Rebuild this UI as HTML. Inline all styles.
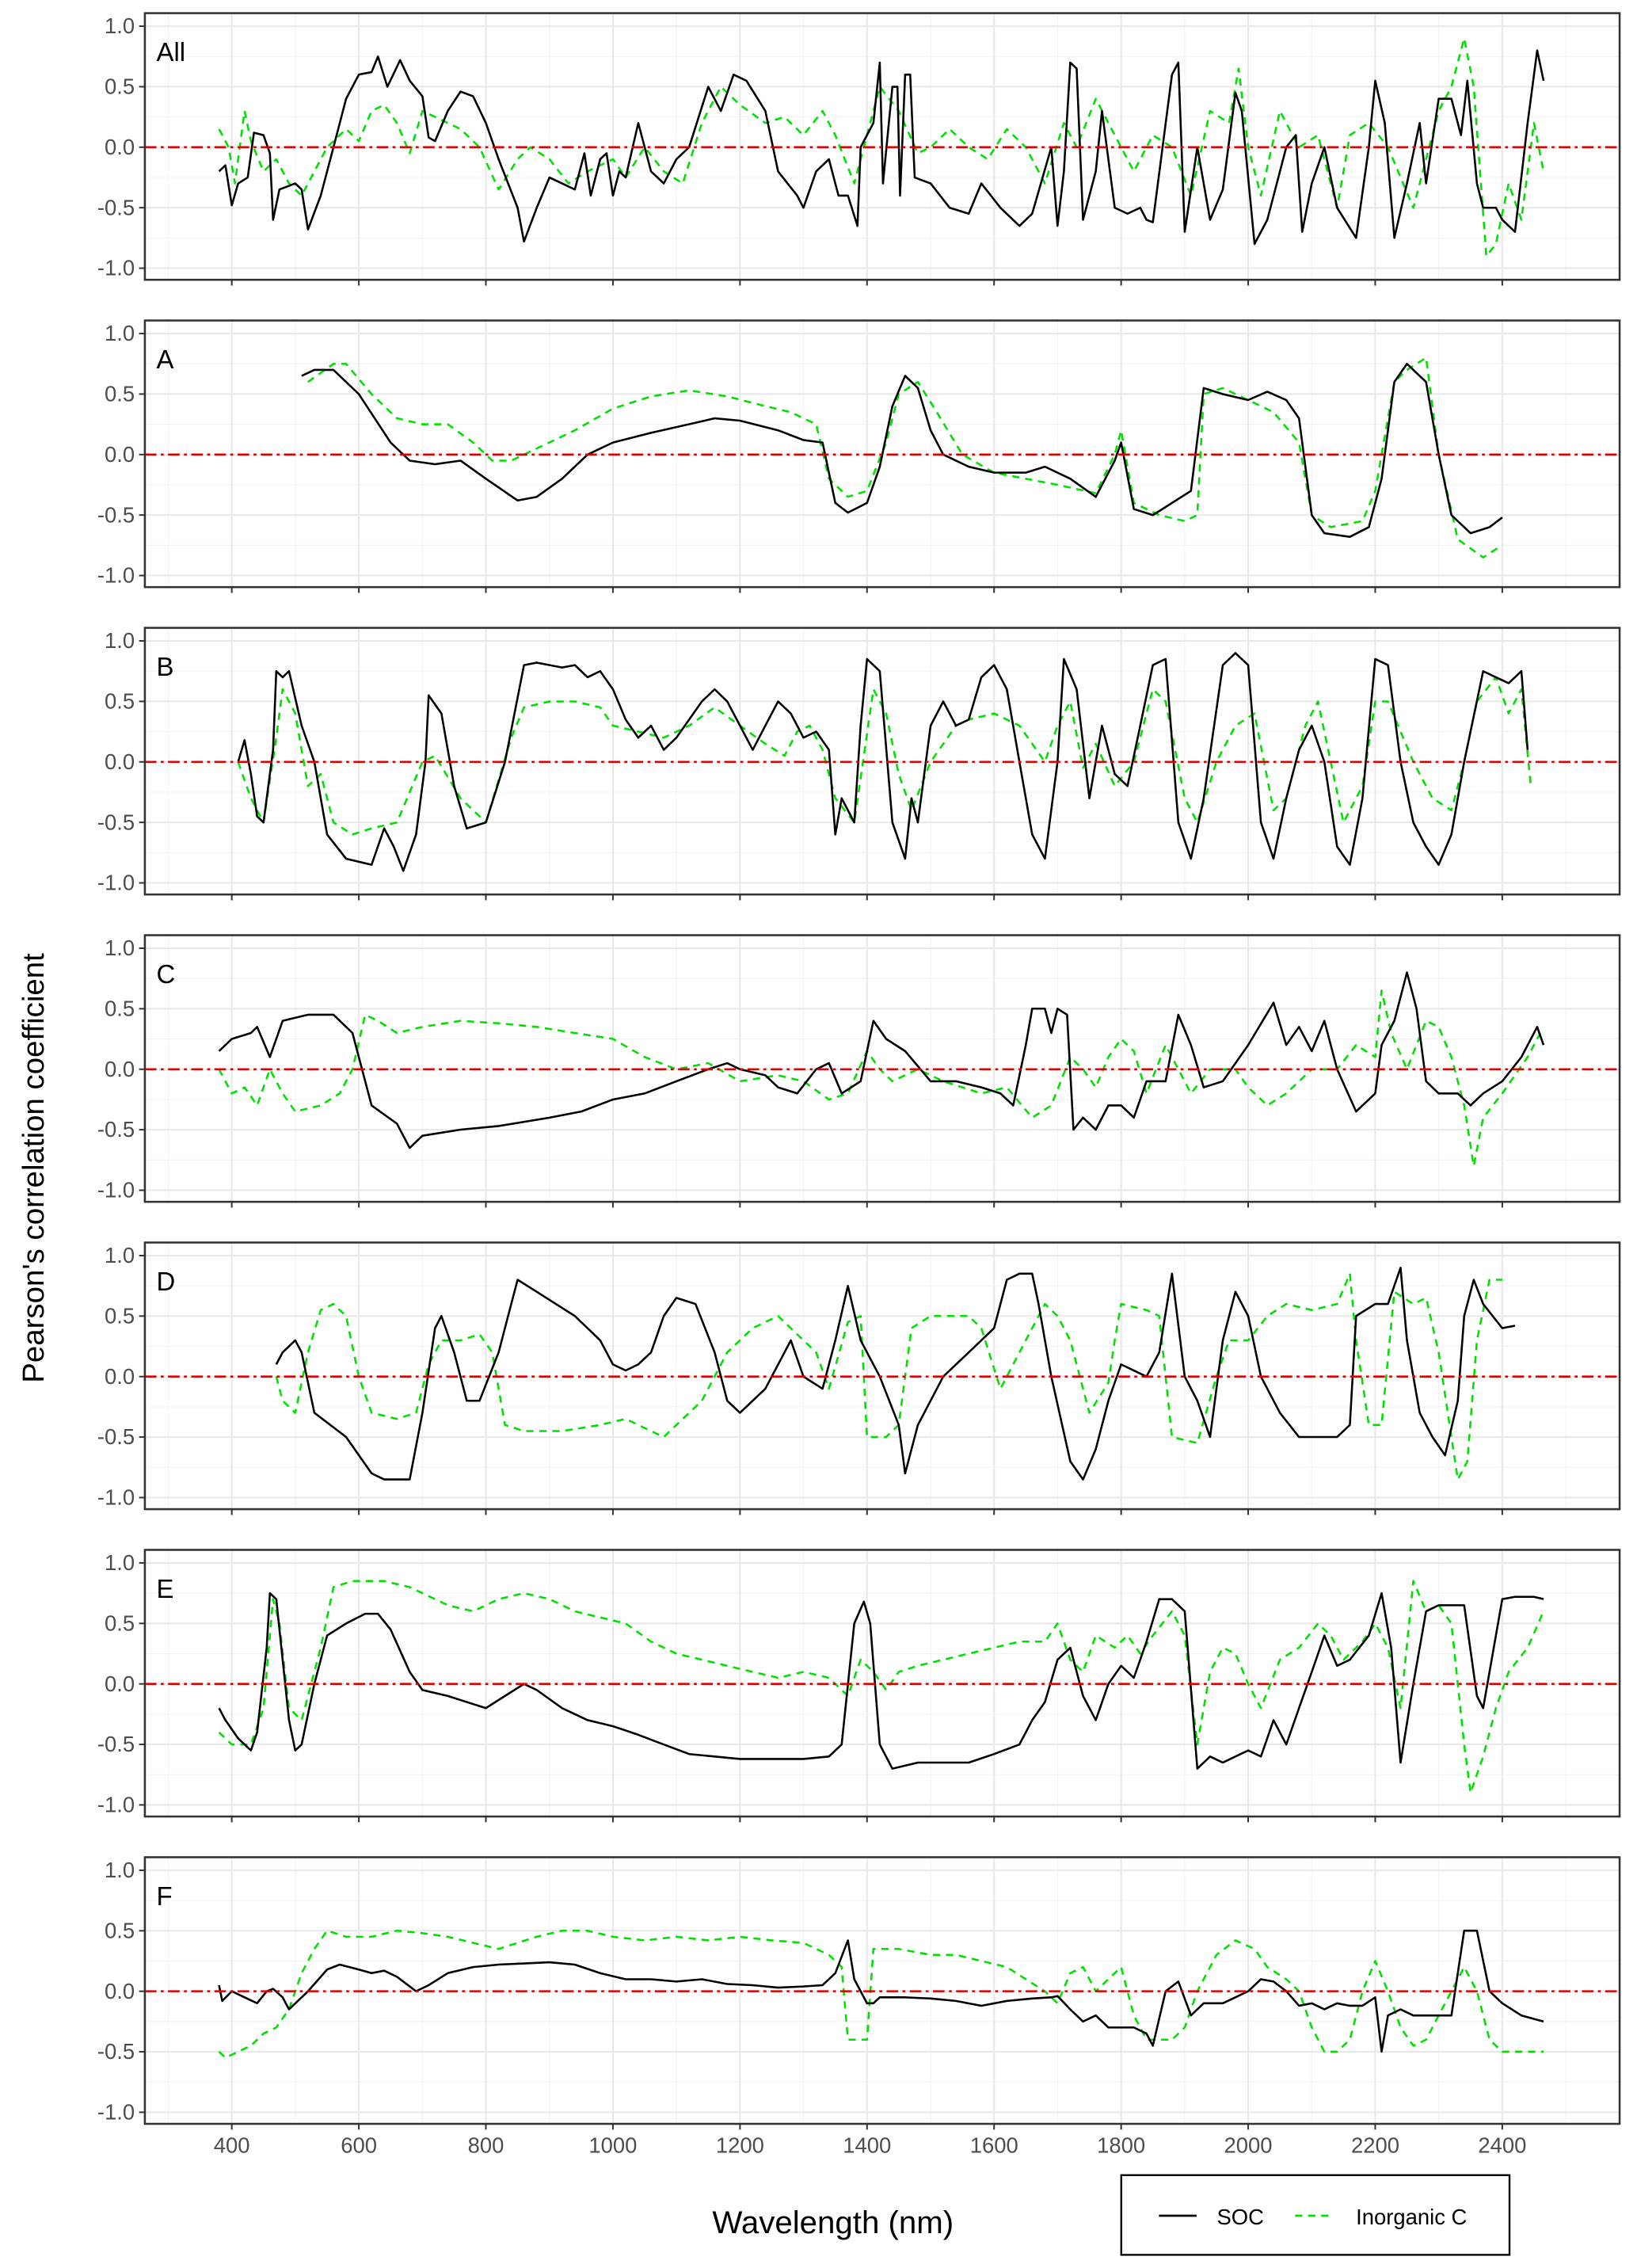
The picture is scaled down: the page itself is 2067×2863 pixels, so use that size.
<!DOCTYPE html>
<html><head><meta charset="utf-8"><style>
html,body{margin:0;padding:0;background:#fff;}
svg{display:block;font-family:"Liberation Sans",Arial,sans-serif;}
</style></head><body>
<svg id="s" xmlns="http://www.w3.org/2000/svg" width="2067" height="2863" viewBox="0 0 1130 1565">
<rect width="1130" height="1565" fill="#fff"/>
<g id="g"></g>
<text x="575" y="1541" font-size="22" text-anchor="middle" fill="#000">Wavelength (nm)</text>
<text transform="translate(30,806) rotate(-90)" font-size="21" text-anchor="middle" fill="#000">Pearson's correlation coefficient</text>
<rect x="774" y="1501" width="268" height="55" fill="#fff" stroke="#000" stroke-width="1.3"/>
<line x1="800" y1="1529" x2="826" y2="1529" stroke="#000" stroke-width="1.5"/>
<text x="840" y="1535" font-size="15">SOC</text>
<line x1="894" y1="1529" x2="920" y2="1529" stroke="#00e000" stroke-width="1.5" stroke-dasharray="5,4"/>
<text x="936" y="1535" font-size="15">Inorganic C</text>
</svg>
<script>
var D={
All:[[[380,-0.2],[390,-0.15],[400,-0.48],[410,-0.3],[425,-0.25],[435,0.12],[450,0.1],[460,-0.05],[465,-0.6],[475,-0.35],[500,-0.3],[510,-0.35],[520,-0.68],[540,-0.4],[560,0],[580,0.4],[600,0.6],[620,0.62],[630,0.75],[645,0.5],[665,0.72],[680,0.55],[700,0.42],[710,0.08],[720,0.05],[740,0.3],[760,0.46],[780,0.42],[800,0.2],[820,-0.1],[850,-0.5],[860,-0.78],[880,-0.5],[900,-0.25],[920,-0.3],[940,-0.35],[955,-0.05],[965,-0.4],[980,-0.1],[990,-0.05],[1000,-0.4],[1010,-0.2],[1020,-0.25],[1040,0.2],[1060,-0.2],[1080,-0.3],[1100,-0.1],[1120,0],[1150,0.5],[1170,0.3],[1190,0.6],[1210,0.55],[1240,0.3],[1260,-0.2],[1290,-0.4],[1300,-0.5],[1320,-0.2],[1340,-0.1],[1355,-0.4],[1370,-0.4],[1385,-0.65],[1390,0],[1410,0.2],[1420,0.7],[1425,-0.3],[1440,0.5],[1448,0.5],[1452,-0.4],[1460,0.6],[1468,0.6],[1475,-0.25],[1500,-0.3],[1530,-0.5],[1560,-0.55],[1580,-0.3],[1610,-0.5],[1640,-0.65],[1660,-0.55],[1690,0],[1700,-0.65],[1710,-0.2],[1720,0.7],[1730,0.65],[1740,-0.6],[1760,-0.2],[1770,0.3],[1790,-0.5],[1810,-0.55],[1830,-0.5],[1840,-0.6],[1850,-0.62],[1880,0.6],[1890,0.7],[1900,-0.7],[1920,0],[1940,-0.6],[1960,-0.35],[1980,0.45],[1990,0.3],[2010,-0.8],[2030,-0.6],[2060,0],[2075,0.1],[2085,-0.7],[2100,-0.3],[2120,0],[2140,-0.5],[2170,-0.75],[2190,0],[2200,0.55],[2215,0.2],[2230,-0.75],[2250,-0.3],[2270,0.2],[2280,-0.3],[2300,0.4],[2320,0.4],[2335,0.1],[2345,0.55],[2360,-0.3],[2370,-0.5],[2390,-0.5],[2400,-0.6],[2420,-0.7],[2440,0.2],[2455,0.8],[2465,0.55]],
[[380,0.15],[395,0],[405,-0.3],[420,0.3],[430,0.05],[450,-0.2],[470,-0.1],[490,-0.3],[510,-0.4],[530,-0.2],[550,0],[580,0.15],[600,0.05],[620,0.3],[640,0.35],[660,0.2],[680,-0.05],[700,0.3],[720,0.25],[740,0.2],[760,0.15],[790,0],[820,-0.35],[850,-0.1],[870,0],[900,-0.1],[930,-0.3],[960,-0.2],[1000,-0.1],[1020,-0.25],[1050,0],[1080,-0.2],[1110,-0.3],[1140,0.2],[1170,0.5],[1200,0.35],[1240,0.2],[1270,0.25],[1300,0.1],[1330,0.3],[1350,0.1],[1380,-0.3],[1420,0.5],[1450,0.3],[1480,-0.05],[1500,0],[1530,0.15],[1560,0],[1590,-0.1],[1620,0.15],[1650,0],[1680,-0.3],[1710,0.2],[1730,0],[1760,0.4],[1790,0.1],[1820,-0.2],[1850,0.1],[1880,0],[1910,-0.4],[1940,0.3],[1970,0.2],[1985,0.65],[2000,0],[2020,-0.4],[2050,0.3],[2080,0],[2110,0.1],[2140,-0.5],[2160,0.1],[2190,0.2],[2220,0],[2260,-0.5],[2280,-0.1],[2300,0.3],[2320,0.5],[2340,0.9],[2355,0.5],[2375,-0.9],[2390,-0.8],[2410,-0.3],[2430,-0.6],[2450,0.2],[2465,-0.2]]],
A:[[[510,0.65],[530,0.7],[560,0.7],[600,0.5],[650,0.1],[680,-0.05],[720,-0.08],[760,-0.05],[800,-0.2],[850,-0.38],[880,-0.35],[920,-0.2],[960,0],[1000,0.1],[1060,0.18],[1120,0.25],[1160,0.3],[1200,0.28],[1260,0.2],[1300,0.12],[1330,0.1],[1350,-0.4],[1370,-0.48],[1400,-0.4],[1420,-0.1],[1440,0.4],[1460,0.65],[1480,0.55],[1500,0.2],[1520,0],[1560,-0.1],[1600,-0.15],[1650,-0.15],[1680,-0.1],[1720,-0.2],[1760,-0.35],[1790,-0.05],[1800,0.1],[1820,-0.45],[1850,-0.5],[1880,-0.4],[1910,-0.3],[1930,0.55],[1960,0.5],[2000,0.45],[2030,0.52],[2060,0.45],[2080,0.3],[2100,-0.5],[2120,-0.65],[2160,-0.68],[2190,-0.6],[2210,-0.2],[2230,0.6],[2250,0.75],[2280,0.6],[2300,0],[2320,-0.5],[2350,-0.65],[2380,-0.6],[2400,-0.52]],
[[520,0.6],[560,0.75],[580,0.75],[620,0.5],[660,0.3],[700,0.25],[740,0.25],[780,0.1],[810,-0.05],[840,-0.05],[880,0.05],[940,0.2],[1000,0.38],[1060,0.48],[1120,0.53],[1180,0.48],[1240,0.4],[1280,0.35],[1320,0.25],[1340,-0.2],[1370,-0.35],[1400,-0.3],[1430,0.1],[1450,0.5],[1480,0.6],[1510,0.35],[1550,0],[1600,-0.15],[1650,-0.2],[1700,-0.25],[1760,-0.32],[1790,0],[1800,0.2],[1820,-0.4],[1860,-0.5],[1900,-0.55],[1920,-0.5],[1930,0.5],[1960,0.55],[2000,0.45],[2040,0.35],[2080,0.1],[2100,-0.5],[2130,-0.6],[2180,-0.55],[2200,-0.3],[2230,0.6],[2250,0.7],[2280,0.8],[2300,0],[2330,-0.7],[2370,-0.85],[2400,-0.75]]],
B:[[[410,0],[420,0.18],[430,-0.1],[440,-0.45],[450,-0.5],[465,0.1],[470,0.75],[480,0.7],[490,0.75],[510,0.3],[530,0],[550,-0.6],[580,-0.8],[620,-0.85],[640,-0.55],[655,-0.7],[670,-0.9],[690,-0.6],[705,0],[710,0.55],[730,0.4],[750,-0.2],[770,-0.55],[800,-0.5],[830,0],[860,0.8],[880,0.82],[920,0.78],[940,0.8],[960,0.7],[980,0.75],[1000,0.6],[1020,0.35],[1040,0.2],[1060,0.3],[1080,0.1],[1100,0.2],[1140,0.5],[1160,0.6],[1180,0.5],[1200,0.3],[1220,0.1],[1240,0.3],[1260,0.5],[1280,0.4],[1300,0.2],[1320,0.25],[1340,0.1],[1350,-0.6],[1360,-0.3],[1380,-0.5],[1390,0.3],[1400,0.85],[1420,0.75],[1440,-0.5],[1460,-0.8],[1470,-0.3],[1480,-0.5],[1500,0.3],[1520,0.5],[1540,0.3],[1560,0.35],[1580,0.7],[1600,0.8],[1620,0.6],[1640,0],[1660,-0.6],[1680,-0.8],[1700,0],[1710,0.85],[1730,0.6],[1750,-0.3],[1770,0.3],[1790,-0.1],[1810,-0.2],[1830,0.3],[1850,0.8],[1870,0.85],[1890,-0.5],[1910,-0.8],[1930,-0.3],[1960,0.8],[1980,0.9],[2000,0.8],[2020,-0.5],[2040,-0.8],[2060,-0.3],[2080,0.1],[2100,0.3],[2120,0],[2140,-0.7],[2160,-0.85],[2180,-0.3],[2200,0.85],[2220,0.8],[2240,0],[2260,-0.5],[2280,-0.7],[2300,-0.85],[2320,-0.6],[2340,0],[2370,0.75],[2390,0.7],[2410,0.65],[2430,0.75],[2440,0.1]],
[[410,0],[430,-0.3],[450,-0.5],[470,0.2],[480,0.6],[500,0.4],[520,-0.2],[540,-0.1],[560,-0.5],[590,-0.6],[620,-0.55],[660,-0.5],[700,0],[720,0.05],[760,-0.3],[800,-0.5],[840,0.2],[860,0.45],[900,0.5],[940,0.5],[980,0.45],[1000,0.3],[1040,0.25],[1080,0.2],[1120,0.3],[1160,0.45],[1200,0.3],[1240,0.15],[1270,0.05],[1290,0.25],[1310,0.3],[1330,0.1],[1350,-0.3],[1380,-0.5],[1410,0.6],[1430,0.4],[1450,-0.1],[1470,-0.4],[1500,0],[1540,0.3],[1560,0.35],[1600,0.4],[1640,0.3],[1680,0],[1700,0.3],[1720,0.5],[1740,-0.05],[1760,0.15],[1790,-0.2],[1820,0],[1850,0.6],[1870,0.5],[1900,-0.3],[1920,-0.5],[1950,0],[1980,0.3],[2010,0.4],[2040,-0.4],[2060,-0.3],[2090,0.3],[2110,0.5],[2130,0],[2150,-0.5],[2180,-0.2],[2200,0.5],[2220,0.5],[2260,0],[2290,-0.3],[2320,-0.4],[2340,0],[2360,0.5],[2390,0.7],[2410,0.4],[2430,0.6],[2445,-0.2]]],
C:[[[380,0.15],[400,0.25],[430,0.3],[440,0.35],[460,0.1],[480,0.4],[520,0.45],[560,0.45],[590,0.3],[620,-0.3],[660,-0.45],[680,-0.65],[700,-0.55],[760,-0.5],[820,-0.47],[900,-0.4],[950,-0.35],[1000,-0.25],[1050,-0.2],[1100,-0.1],[1150,0],[1180,0.05],[1200,0],[1240,-0.05],[1260,-0.15],[1290,-0.2],[1320,0],[1340,0.05],[1360,-0.2],[1390,-0.1],[1410,0.4],[1430,0.25],[1460,0.15],[1500,-0.1],[1540,-0.1],[1580,-0.15],[1610,-0.2],[1630,-0.3],[1650,0.2],[1660,0.5],[1680,0.5],[1690,0.3],[1700,0.5],[1715,0.45],[1725,-0.5],[1740,-0.4],[1760,-0.5],[1780,-0.3],[1800,-0.3],[1820,-0.4],[1840,-0.1],[1870,-0.1],[1890,0.45],[1910,0.2],[1930,-0.15],[1960,-0.1],[2000,0.2],[2040,0.55],[2060,0.2],[2080,0.35],[2100,0.15],[2120,0.4],[2140,0],[2170,-0.35],[2200,-0.2],[2210,0.2],[2230,0.4],[2250,0.8],[2265,0.5],[2280,-0.1],[2300,-0.2],[2330,-0.2],[2350,-0.3],[2370,-0.2],[2400,-0.1],[2430,0.1],[2455,0.35],[2465,0.2]],
[[380,0],[400,-0.2],[420,-0.15],[440,-0.3],[460,0],[480,-0.2],[500,-0.35],[540,-0.3],[570,-0.2],[590,0],[610,0.45],[630,0.4],[660,0.3],[700,0.35],[760,0.4],[820,0.38],[880,0.35],[940,0.3],[1000,0.25],[1050,0.1],[1100,0],[1150,0.05],[1200,-0.1],[1260,-0.05],[1300,-0.1],[1340,-0.25],[1370,-0.2],[1400,0.15],[1420,0],[1440,-0.1],[1480,0],[1520,-0.1],[1580,-0.2],[1620,-0.15],[1660,-0.4],[1690,-0.3],[1720,0.1],[1740,0],[1760,-0.15],[1780,0.1],[1800,0.25],[1820,0.15],[1840,-0.2],[1870,0.2],[1890,0],[1910,-0.2],[1940,0],[1980,0],[2000,-0.15],[2030,-0.3],[2060,-0.2],[2100,0],[2140,0],[2170,0.2],[2200,0.1],[2210,0.65],[2225,0.3],[2250,0],[2280,0.4],[2300,0.35],[2320,0.1],[2340,-0.3],[2355,-0.8],[2370,-0.4],[2400,-0.2],[2440,0.1],[2460,0.3]]],
D:[[[470,0.1],[480,0.2],[500,0.3],[510,0.2],[530,-0.3],[580,-0.5],[620,-0.8],[640,-0.85],[680,-0.85],[700,-0.3],[720,0.4],[730,0.5],[750,0.2],[770,-0.2],[790,-0.2],[820,0.2],[840,0.6],[850,0.8],[880,0.7],[940,0.5],[980,0.3],[1000,0.1],[1020,0.05],[1040,0.1],[1060,0.2],[1080,0.5],[1100,0.65],[1130,0.6],[1160,0.2],[1180,-0.2],[1200,-0.3],[1240,-0.1],[1280,0.3],[1300,0],[1330,-0.1],[1350,0.3],[1370,0.75],[1390,0.3],[1420,0],[1450,-0.4],[1460,-0.8],[1480,-0.4],[1520,0],[1560,0.2],[1600,0.4],[1620,0.8],[1640,0.85],[1660,0.85],[1670,0.6],[1690,0],[1720,-0.7],[1740,-0.85],[1760,-0.6],[1780,-0.2],[1800,0.1],[1840,0],[1860,0.2],[1880,0.85],[1900,0],[1920,-0.2],[1940,-0.5],[1960,0.3],[1980,0.7],[2000,0.5],[2020,0],[2050,-0.3],[2080,-0.5],[2110,-0.5],[2140,-0.5],[2160,-0.4],[2170,0.5],[2200,0.6],[2220,0.6],[2240,0.9],[2250,0.3],[2270,-0.3],[2290,-0.5],[2310,-0.65],[2330,-0.2],[2340,0.5],[2355,0.8],[2370,0.6],[2400,0.4],[2420,0.42]],
[[470,0],[480,-0.2],[500,-0.3],[520,0.2],[540,0.55],[560,0.6],[580,0.5],[600,0],[620,-0.3],[660,-0.35],[690,-0.3],[710,0.1],[730,0.3],[760,0.3],[790,0.35],[810,0.2],[830,-0.4],[860,-0.45],[920,-0.45],[980,-0.4],[1020,-0.35],[1060,-0.45],[1080,-0.5],[1100,-0.4],[1140,-0.2],[1180,0.2],[1220,0.4],[1260,0.5],[1300,0.3],[1320,0.2],[1340,-0.1],[1370,0.45],[1390,0.5],[1400,-0.5],[1430,-0.5],[1450,-0.4],[1470,0.4],[1500,0.5],[1560,0.5],[1580,0.4],[1610,-0.1],[1640,0.2],[1680,0.6],[1700,0.5],[1720,0.3],[1750,-0.3],[1780,-0.05],[1790,0.3],[1800,0.6],[1840,0.55],[1860,0.5],[1880,-0.5],[1920,-0.55],[1950,0],[1970,0.3],[2000,0.3],[2030,0.5],[2060,0.6],[2100,0.55],[2140,0.6],[2160,0.85],[2170,0.3],[2190,-0.4],[2210,-0.4],[2230,0.7],[2260,0.6],[2280,0.65],[2300,0.2],[2320,-0.5],[2330,-0.85],[2345,-0.7],[2360,0.3],[2380,0.8],[2400,0.8]]],
E:[[[380,-0.2],[390,-0.3],[410,-0.45],[430,-0.55],[440,-0.4],[455,0.3],[460,0.75],[470,0.7],[480,0.2],[490,-0.3],[500,-0.55],[510,-0.5],[530,0],[550,0.4],[580,0.5],[610,0.58],[630,0.58],[650,0.45],[680,0.1],[700,-0.05],[740,-0.1],[770,-0.15],[800,-0.2],[830,-0.1],[860,0],[880,-0.05],[920,-0.2],[960,-0.3],[1000,-0.35],[1040,-0.42],[1080,-0.5],[1120,-0.58],[1160,-0.6],[1200,-0.62],[1260,-0.62],[1300,-0.62],[1340,-0.6],[1360,-0.5],[1380,0.5],[1395,0.68],[1405,0.5],[1420,-0.5],[1440,-0.7],[1480,-0.65],[1520,-0.65],[1560,-0.65],[1600,-0.58],[1640,-0.5],[1660,-0.3],[1680,-0.15],[1700,0.2],[1720,0.3],[1740,-0.1],[1760,-0.3],[1780,0],[1800,0.15],[1820,0.05],[1840,0.35],[1860,0.7],[1880,0.7],[1900,0.6],[1920,-0.7],[1940,-0.6],[1960,-0.65],[1980,-0.6],[2000,-0.55],[2020,-0.6],[2040,-0.3],[2060,-0.5],[2080,-0.2],[2100,0.1],[2120,0.4],[2140,0.15],[2160,0.2],[2190,0.4],[2210,0.75],[2225,0.3],[2240,-0.65],[2260,0],[2280,0.6],[2300,0.65],[2340,0.65],[2360,-0.1],[2370,-0.2],[2380,0.1],[2400,0.7],[2420,0.72],[2450,0.72],[2465,0.7]],
[[380,-0.4],[400,-0.5],[430,-0.5],[450,-0.2],[465,0.7],[475,0.5],[490,-0.2],[510,-0.3],[540,0.3],[560,0.8],[590,0.85],[640,0.85],[680,0.8],[700,0.75],[740,0.65],[780,0.6],[820,0.7],[860,0.75],[900,0.7],[940,0.6],[980,0.55],[1020,0.5],[1060,0.35],[1100,0.25],[1140,0.2],[1180,0.15],[1220,0.1],[1260,0.05],[1300,0.1],[1340,0.05],[1370,-0.1],[1390,0.2],[1410,0.1],[1430,-0.05],[1450,0.1],[1480,0.15],[1520,0.2],[1560,0.25],[1600,0.3],[1640,0.35],[1680,0.35],[1700,0.5],[1720,0.2],[1740,0.1],[1760,0.4],[1790,0.3],[1810,0.4],[1830,0.25],[1850,0.4],[1880,0.6],[1900,0.4],[1920,-0.5],[1940,0.1],[1960,0.3],[1980,0.25],[2000,0],[2020,-0.2],[2050,0.2],[2080,0.3],[2110,0.5],[2130,0.4],[2150,0.2],[2180,0.35],[2200,0.5],[2220,0.3],[2240,-0.2],[2260,0.85],[2280,0.6],[2300,0.65],[2320,0.5],[2340,-0.5],[2350,-0.9],[2370,-0.6],[2390,-0.2],[2410,0.1],[2440,0.3],[2465,0.6]]],
F:[[[380,0.05],[385,-0.08],[400,0],[420,-0.05],[440,-0.1],[455,0],[465,0.02],[480,-0.05],[490,-0.15],[520,0],[550,0.18],[570,0.22],[600,0.18],[620,0.15],[640,0.17],[660,0.12],[690,0],[710,0.05],[740,0.15],[780,0.2],[820,0.22],[860,0.23],[900,0.24],[940,0.22],[980,0.15],[1020,0.1],[1060,0.1],[1100,0.08],[1140,0.1],[1180,0.06],[1220,0.05],[1260,0.03],[1300,0.04],[1330,0.05],[1350,0.15],[1370,0.42],[1380,0.1],[1400,-0.1],[1410,-0.1],[1420,-0.05],[1460,-0.05],[1500,-0.06],[1540,-0.08],[1580,-0.12],[1620,-0.08],[1660,-0.06],[1690,-0.05],[1700,-0.04],[1720,-0.15],[1740,-0.25],[1760,-0.2],[1780,-0.3],[1800,-0.3],[1820,-0.3],[1840,-0.35],[1850,-0.45],[1870,0],[1890,0.08],[1910,-0.2],[1930,-0.1],[1960,-0.1],[1980,-0.05],[2000,0],[2020,0.1],[2040,0.08],[2060,0],[2080,-0.12],[2100,-0.1],[2120,-0.15],[2140,-0.1],[2160,-0.12],[2180,-0.12],[2200,-0.05],[2210,-0.5],[2220,-0.2],[2240,-0.15],[2260,-0.2],[2280,-0.2],[2300,-0.2],[2320,-0.2],[2340,0.5],[2360,0.5],[2380,0],[2400,-0.1],[2430,-0.2],[2465,-0.25]],
[[380,-0.5],[390,-0.55],[410,-0.5],[430,-0.45],[450,-0.35],[470,-0.3],[490,-0.15],[510,0.15],[530,0.35],[550,0.5],[580,0.45],[620,0.45],[660,0.5],[700,0.48],[740,0.45],[780,0.4],[820,0.35],[850,0.4],[880,0.45],[920,0.5],[960,0.5],[1000,0.45],[1050,0.42],[1100,0.45],[1150,0.42],[1200,0.45],[1250,0.42],[1300,0.4],[1340,0.3],[1360,0.2],[1370,-0.4],[1400,-0.4],[1410,0.35],[1450,0.35],[1500,0.3],[1540,0.3],[1580,0.25],[1620,0.2],[1650,0.1],[1680,0],[1700,-0.1],[1720,0.15],[1740,0.2],[1760,0],[1780,0.1],[1800,0.2],[1820,-0.2],[1840,-0.4],[1880,-0.4],[1900,-0.3],[1920,0],[1950,0.3],[1980,0.42],[2010,0.35],[2030,0.2],[2060,0.1],[2080,0],[2100,-0.3],[2120,-0.5],[2140,-0.5],[2160,-0.4],[2180,0],[2200,0.25],[2220,0],[2240,-0.3],[2260,-0.45],[2280,-0.4],[2300,-0.2],[2320,0],[2340,0.2],[2360,0],[2380,-0.4],[2400,-0.5],[2440,-0.5],[2465,-0.5]]]
};
var names=["All","A","B","C","D","E","F"];
var L=100,R=1118,H=184;
function X(w){return 160+(w-400)*0.4385;}
var out="";
names.forEach(function(n,i){
  var top=9+i*212.1, z=top+92.5, k=83.5;
  function Y(r){return z-r*k;}
  // minor grid
  for(var w=300;w<=2500;w+=200){out+='<line x1="'+X(w)+'" y1="'+top+'" x2="'+X(w)+'" y2="'+(top+H)+'" stroke="#f3f3f3" stroke-width="0.6"/>';}
  [-0.75,-0.25,0.25,0.75].forEach(function(r){out+='<line x1="'+L+'" y1="'+Y(r)+'" x2="'+R+'" y2="'+Y(r)+'" stroke="#f3f3f3" stroke-width="0.6"/>';});
  for(var w=400;w<=2400;w+=200){out+='<line x1="'+X(w)+'" y1="'+top+'" x2="'+X(w)+'" y2="'+(top+H)+'" stroke="#e8e8e8" stroke-width="1.1"/>';
    out+='<line x1="'+X(w)+'" y1="'+(top+H)+'" x2="'+X(w)+'" y2="'+(top+H+4)+'" stroke="#333" stroke-width="1.1"/>';
    if(i==6) out+='<text x="'+X(w)+'" y="'+(top+H+20)+'" font-size="15" fill="#4d4d4d" text-anchor="middle">'+w+'</text>';}
  [-1,-0.5,0,0.5,1].forEach(function(r){out+='<line x1="'+L+'" y1="'+Y(r)+'" x2="'+R+'" y2="'+Y(r)+'" stroke="#e8e8e8" stroke-width="1.1"/>';
    out+='<line x1="'+(L-4)+'" y1="'+Y(r)+'" x2="'+L+'" y2="'+Y(r)+'" stroke="#333" stroke-width="1.1"/>';
    out+='<text x="'+(L-7)+'" y="'+(Y(r)+5)+'" font-size="15" fill="#4d4d4d" text-anchor="end">'+(r<0?"-":"")+Math.abs(r).toFixed(1)+'</text>';});
  var d=D[n];
  function pts(a){return a.map(function(p){return X(p[0]).toFixed(1)+","+Y(p[1]).toFixed(1);}).join(" ");}
  out+='<polyline points="'+pts(d[1])+'" fill="none" stroke="#00e000" stroke-width="1.4" stroke-dasharray="5,4" stroke-linejoin="round"/>';
  out+='<polyline points="'+pts(d[0])+'" fill="none" stroke="#000" stroke-width="1.4" stroke-linejoin="round"/>';
  out+='<line x1="'+L+'" y1="'+z+'" x2="'+R+'" y2="'+z+'" stroke="#e00000" stroke-width="1.4" stroke-dasharray="8,3,2,3"/>';
  out+='<rect x="'+L+'" y="'+top+'" width="'+(R-L)+'" height="'+H+'" fill="none" stroke="#333" stroke-width="1.4"/>';
  out+='<text x="'+(L+8)+'" y="'+(top+33)+'" font-size="18" fill="#000">'+n+'</text>';
});
document.getElementById("g").innerHTML=out;
</script>
</body></html>
